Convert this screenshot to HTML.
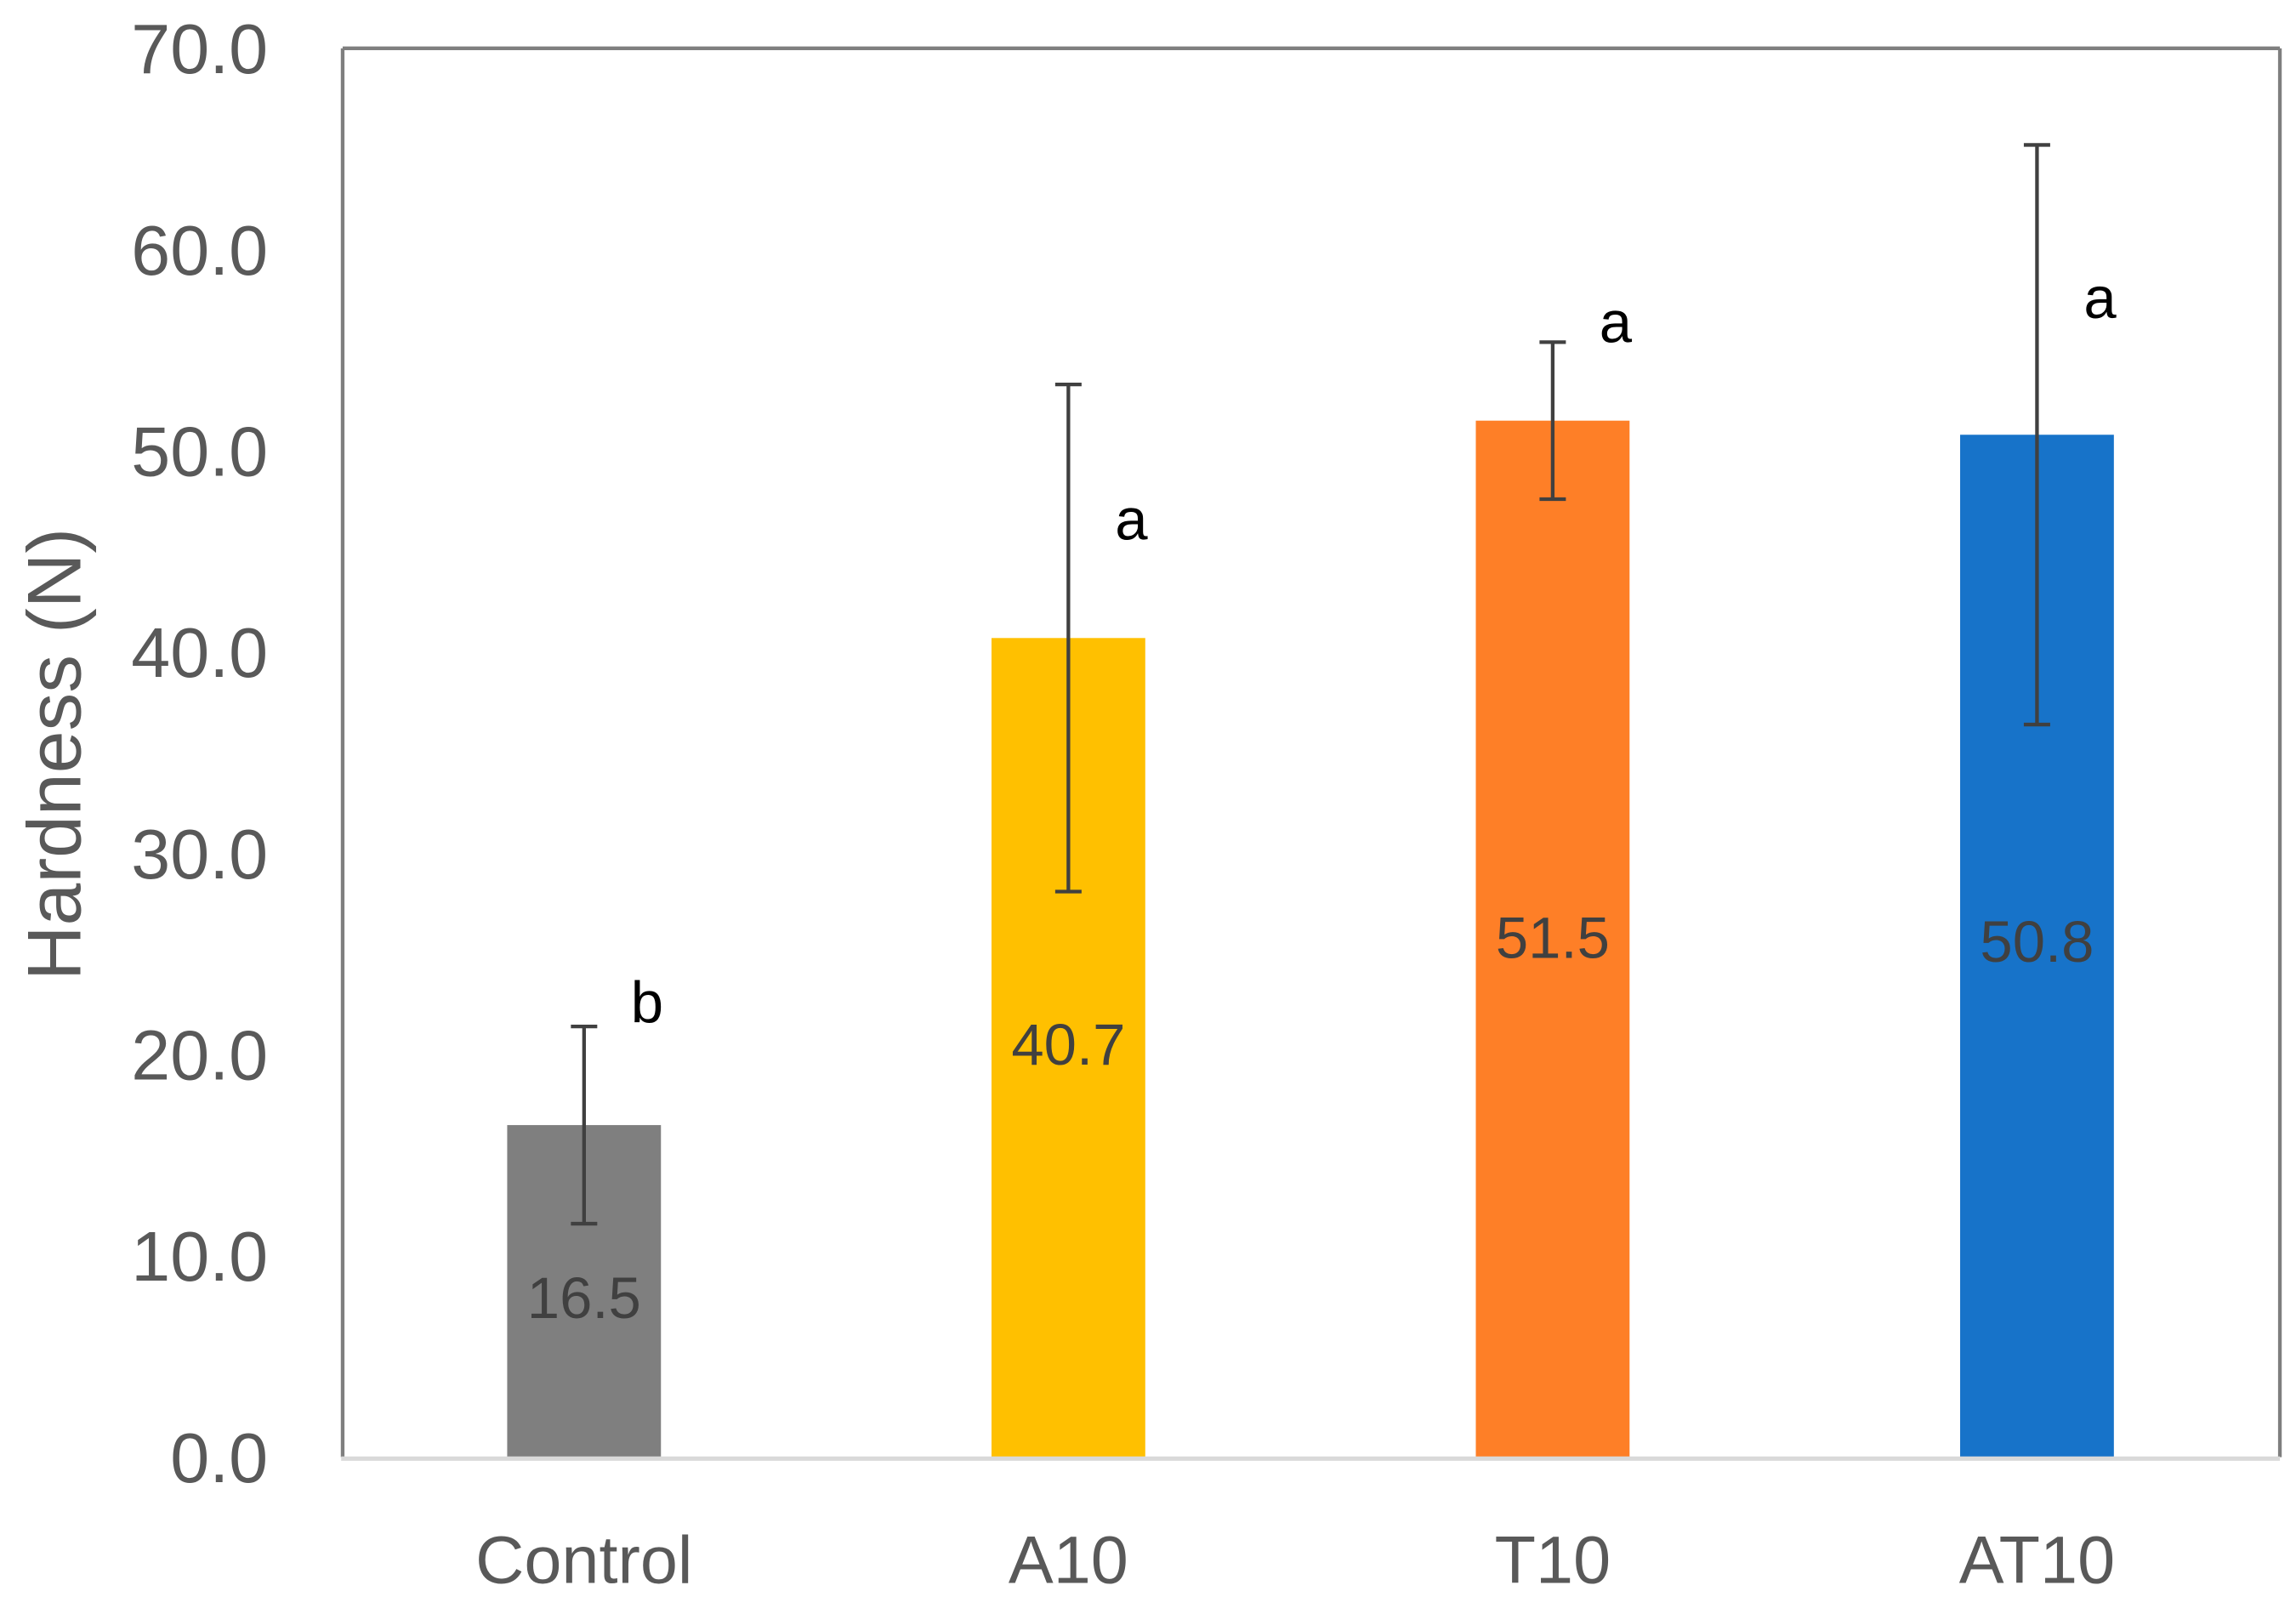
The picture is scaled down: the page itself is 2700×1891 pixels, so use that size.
<!DOCTYPE html>
<html><head><meta charset="utf-8"><style>
html,body{margin:0;padding:0;background:#fff}
svg{display:block}
text{font-family:"Liberation Sans",sans-serif}
</style></head><body>
<svg id="chart" width="2700" height="1891" viewBox="0 0 1568 1098" preserveAspectRatio="none" xmlns="http://www.w3.org/2000/svg">
<rect x="0" y="0" width="1568" height="1098" fill="#fff"/>
<g id="frame">
<line x1="234" y1="33" x2="1557" y2="33" stroke="#7f7f7f" stroke-width="2.5"/>
<line x1="234" y1="33" x2="234" y2="995" stroke="#7f7f7f" stroke-width="2.5"/>
<line x1="1557" y1="33" x2="1557" y2="995" stroke="#7f7f7f" stroke-width="2.5"/>
</g>
<g id="yticks"></g>
<g id="bars"></g>
<line x1="233" y1="996" x2="1557" y2="996" stroke="#d9d9d9" stroke-width="3"/>
<g id="errs"></g>
<g id="labels"></g>
<text x="0" y="0" transform="translate(55,515) rotate(-90)" text-anchor="middle" font-size="52" fill="#595959">Hardness (N)</text>
</svg>
<script>
const categories = ["Control","A10","T10","AT10"];
const values = [16.5,40.7,51.5,50.8];
const errors = [4.9,12.6,3.9,14.4];
const letters = ["b","a","a","a"];
const letterVals = [21.6,45.6,55.4,56.6];
const colors = ["#7f7f7f","#ffc000","#fe7f27","#1773c9"];
const yTicks = [0,10,20,30,40,50,60,70];
const labelVals = [8.0,20.6,25.9,25.7];

const NS="http://www.w3.org/2000/svg";
const yMin=0,yMax=70,py0=995,py1=33;
function y(v){return py0-(v-yMin)/(yMax-yMin)*(py0-py1);}
const px0=234,px1=1557;
function xc(i){return px0+(px1-px0)*(i+0.5)/categories.length;}
const bw=105;
function mk(tag,attrs,parent,txt){const e=document.createElementNS(NS,tag);for(const k in attrs)e.setAttribute(k,attrs[k]);if(txt!==undefined)e.textContent=txt;document.getElementById(parent).appendChild(e);return e;}

yTicks.forEach(t=>{
  const e=mk("text",{x:183,y:y(t)+17,"text-anchor":"end","font-size":"48",fill:"#595959"},"yticks",t.toFixed(1));
  
  
});
categories.forEach((c,i)=>{
  const cx=xc(i)-0.5;
  const r=mk("rect",{x:cx-bw/2,y:y(values[i]),width:bw,height:y(0)-y(values[i]),fill:colors[i]},"bars");
  
  
  const hi=y(values[i]+errors[i]),lo=y(values[i]-errors[i]);
  const g=mk("g",{stroke:"#404040","stroke-width":"2.5"},"errs");
  
  
  [[cx,hi,cx,lo],[cx-9,hi,cx+9,hi],[cx-9,lo,cx+9,lo]].forEach(l=>{const ln=document.createElementNS(NS,"line");ln.setAttribute("x1",l[0]);ln.setAttribute("y1",l[1]);ln.setAttribute("x2",l[2]);ln.setAttribute("y2",l[3]);g.appendChild(ln);});
  const vl=mk("text",{x:cx,y:y(labelVals[i])+15,"text-anchor":"middle","font-size":"40",fill:"#404040"},"labels",values[i].toFixed(1));
  
  
  const lt=mk("text",{x:cx+43,y:y(letterVals[i]),"text-anchor":"middle","font-size":"40",fill:"#000"},"labels",letters[i]);
  
  
  const xl=mk("text",{x:cx,y:1081,"text-anchor":"middle","font-size":"46",fill:"#595959"},"labels",c);
  
  
});
</script>
</body></html>
